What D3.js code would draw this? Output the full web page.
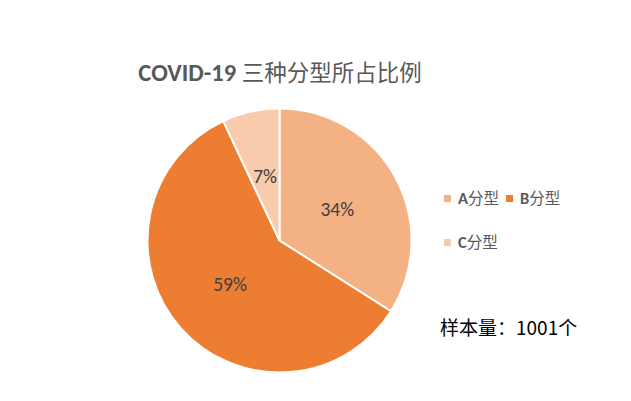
<!DOCTYPE html>
<html>
<head>
<meta charset="utf-8">
<title>COVID-19 三种分型所占比例</title>
<script src="https://d3js.org/d3.v7.min.js"></script>
<style>
  body { margin: 0; background: #fff; }
  text { font-family: Calibri, "Liberation Sans", "Noto Sans CJK SC", sans-serif; }
</style>
</head>
<body>
<div id="chart"></div>
<script>
// data
var types = ["A分型", "B分型", "C分型"];
var shares = [34, 59, 7];
var colors = ["#F4B183", "#ED7D31", "#F8CBAD"];
var sampleNote = "样本量：1001个";

var width = 631, height = 401;
var cx = 279.5, cy = 240.5, radius = 132;

var svg = d3.select("#chart")
  .append("svg")
    .attr("width", width)
    .attr("height", height);

// title
var title = svg.append("text")
  .attr("x", 280)
  .attr("y", 81)
  .attr("text-anchor", "middle")
  .style("font-size", "24.5px")
  .style("fill", "#595959");
title.append("tspan").style("font-weight", "bold").text("COVID-19 ");
title.append("tspan").style("font-family", "'Noto Sans CJK SC'").style("font-size", "22.5px").text("三种分型所占比例");

var pie = d3.pie().sort(null).value(function(d) { return d; });
var arc = d3.arc().innerRadius(0).outerRadius(radius);

var g = svg.append("g").attr("transform", "translate(" + cx + "," + cy + ")");

var slices = g.selectAll("g.slice")
  .data(pie(shares))
  .enter()
  .append("g").attr("class", "slice");

slices.append("path")
  .attr("d", arc)
  .attr("fill", function(d, i) { return colors[i]; })
  .attr("stroke", "#fff")
  .attr("stroke-width", 2);

slices.append("text")
  .attr("transform", function(d) { var c = arc.centroid(d); return "translate(" + c[0] + "," + (c[1] + 7) + ")"; })
  .attr("text-anchor", "middle")
  .style("font-size", "19.5px")
  .style("fill", "#404040")
  .text(function(d) { return d.data + "%"; });

// legend
var legendPos = [[444, 204], [506, 204], [444, 248]];
var legend = svg.selectAll("g.legend")
  .data(types)
  .enter()
  .append("g").attr("class", "legend")
  .attr("transform", function(d, i) { return "translate(" + legendPos[i][0] + "," + legendPos[i][1] + ")"; });

legend.append("rect")
  .attr("x", 0).attr("y", -9)
  .attr("width", 7).attr("height", 7)
  .attr("fill", function(d, i) { return colors[i]; });

var lt = legend.append("text")
  .attr("x", 14)
  .style("font-size", "16.5px")
  .style("fill", "#595959");
lt.append("tspan").style("font-weight", "bold").text(function(d) { return d.slice(0, 1); });
lt.append("tspan").style("font-family", "'Noto Sans CJK SC'").style("font-size", "15.5px").text(function(d) { return d.slice(1); });

// sample size note
svg.append("text")
  .attr("x", 440)
  .attr("y", 335)
  .style("font-family", "'Noto Sans CJK SC'")
  .style("font-size", "19px")
  .style("fill", "#000")
  .text(sampleNote);
</script>
</body>
</html>
